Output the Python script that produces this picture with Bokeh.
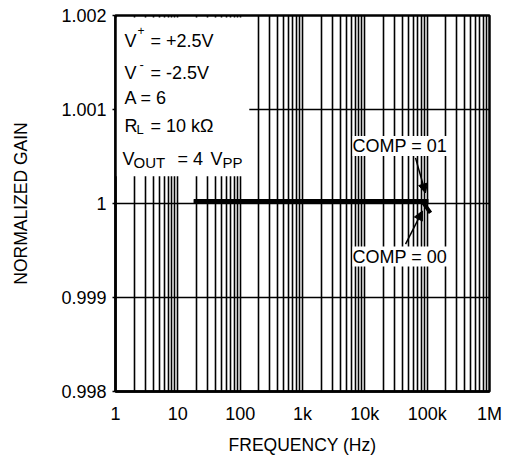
from bokeh.plotting import figure
from bokeh.models import FixedTicker, Label, BoxAnnotation, Arrow, NormalHead, Range1d
from bokeh.embed import file_html
from bokeh.resources import INLINE

# ---- data ----
freq01 = [18, 100, 1000, 10000, 50000, 90000, 105000]
gain01 = [1.00002, 1.00002, 1.00002, 1.00002, 1.00002, 1.00002, 1.00002]
freq00 = [18, 100, 1000, 10000, 50000, 84000, 113000]
gain00 = [1.00002, 1.00002, 1.00002, 1.00002, 1.00002, 1.00002, 0.99990]

x_ticks = [1, 10, 100, 1000, 10000, 100000, 1000000]
x_labels = ["1", "10", "100", "1k", "10k", "100k", "1M"]
y_ticks = [0.998, 0.999, 1.0, 1.001, 1.002]
y_labels = ["0.998", "0.999", "1", "1.001", "1.002"]
mantissas = [1, 2, 3, 4, 5, 6, 7, 8, 9]

FONT = "Liberation Sans"

p = figure(frame_width=374, frame_height=376,
           x_axis_type="log", x_range=Range1d(1, 1e6), y_range=Range1d(0.998, 1.002),
           output_backend="svg", toolbar_location=None,
           min_border_left=115, min_border_right=24, min_border_top=15, min_border_bottom=67)

p.background_fill_color = "white"
p.border_fill_color = "white"
p.outline_line_color = "black"
p.outline_line_width = 2.5

# axes
p.xaxis.ticker = FixedTicker(ticks=x_ticks, minor_ticks=[])
p.xaxis.major_label_overrides = dict(zip(x_ticks, x_labels))
p.yaxis.ticker = FixedTicker(ticks=y_ticks, minor_ticks=[])
p.yaxis.major_label_overrides = dict(zip(y_ticks, y_labels))
for ax in (p.xaxis, p.yaxis):
    ax.axis_line_color = "black"
    ax.axis_line_width = 2.5
    ax.major_tick_line_color = "black"
    ax.major_tick_line_width = 1.5
    ax.major_tick_in = 0
    ax.minor_tick_line_color = None
    ax.major_label_text_font = FONT
    ax.major_label_text_font_size = "18px"
    ax.major_label_text_color = "black"
    ax.axis_label_text_font = FONT
    ax.axis_label_text_font_size = "17.5px"
    ax.axis_label_text_font_style = "normal"
    ax.axis_label_text_color = "black"
p.xaxis.major_tick_out = 0
p.xaxis.major_label_standoff = 12
p.yaxis.major_tick_out = 3
p.yaxis.major_label_standoff = 6
p.xaxis.axis_label = "FREQUENCY (Hz)"
p.yaxis.axis_label = "NORMALIZED GAIN"
p.xaxis.axis_label_standoff = 8
p.yaxis.axis_label_standoff = 27

# grid
grid_ticks = [m * d for d in x_ticks[:-1] for m in mantissas] + [x_ticks[-1]]
p.xgrid.ticker = FixedTicker(ticks=grid_ticks)
p.xgrid.grid_line_color = "black"
p.xgrid.grid_line_width = 1.6
p.ygrid.ticker = FixedTicker(ticks=y_ticks)
p.ygrid.grid_line_color = "black"
p.ygrid.grid_line_width = 1.6

# white panel behind conditions text
box = BoxAnnotation(left=1, right=140, bottom=1.00029, top=1.00198,
                    fill_color="white", fill_alpha=1.0, line_color=None, level="glyph")
p.add_layout(box)

# curves
p.line(freq01, gain01, line_width=5, line_color="black")
p.line(freq00, gain00, line_width=4, line_color="black")

def lab(text, dx, dy, size="18px"):
    p.add_layout(Label(x=1, y=1.002, text=text, x_offset=dx, y_offset=dy,
                       text_font=FONT, text_font_size=size, text_color="black",
                       text_align="left", text_baseline="middle"))

lab("V", 9, -25)
lab("+", 22, -14.5, "12px")
lab("= +2.5V", 35, -25)
lab("V", 9, -57)
lab("-", 24, -49, "13px")
lab("= -2.5V", 35, -57)
lab("A = 6", 9, -82.5)
lab("R", 9, -110)
lab("L", 21, -114, "13px")
lab("= 10 k\u03a9", 35, -110)
lab("V", 7, -143.5)
lab("OUT", 18, -147, "15px")
lab("= 4", 62, -143.5)
lab("V", 95, -143.5)
lab("PP", 107, -147, "15px")

for txt, yv in (("COMP = 01", 1.000613), ("COMP = 00", 0.999435)):
    p.add_layout(Label(x=6340, y=yv, text=txt, text_font=FONT, text_font_size="18px",
                       text_color="black", text_align="left", text_baseline="middle",
                       background_fill_color="white", background_fill_alpha=1.0))

p.add_layout(Arrow(end=NormalHead(size=9, fill_color="black", line_color="black"),
                   x_start=65000, y_start=1.000485, x_end=94000, y_end=1.000112,
                   line_width=1.5, line_color="black"))
p.add_layout(Arrow(end=NormalHead(size=9, fill_color="black", line_color="black"),
                   x_start=45000, y_start=0.999568, x_end=84000, y_end=0.99992,
                   line_width=1.5, line_color="black"))

open("out.html", "w").write(file_html(p, INLINE))
